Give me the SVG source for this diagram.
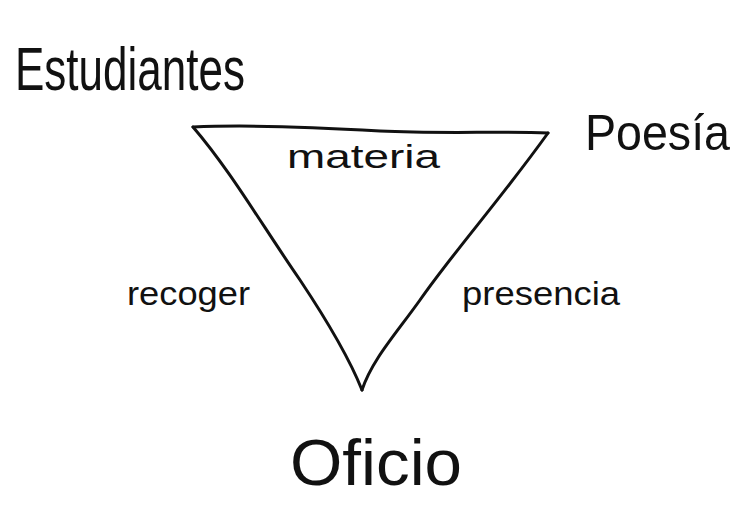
<svg xmlns="http://www.w3.org/2000/svg" width="752" height="515" viewBox="0 0 752 515">
<style>
.edge{fill:none;stroke:#111;stroke-width:3;stroke-linecap:round;stroke-linejoin:round}
.big{font-family:"Liberation Sans","DejaVu Sans",sans-serif;fill:#111}
.small{font-family:"Liberation Sans","DejaVu Sans",sans-serif;fill:#111;font-size:34px}
</style>
<rect width="752" height="515" fill="#fff"/>
<g id="connectors">
<path class="edge" d="M193,127 C260,124 330,128 380,131 C440,134 500,131 548,133"/>
<path class="edge" d="M193,127 C230,170 262,225 300,280 C330,325 350,360 362,390"/>
<path class="edge" d="M548,133 C500,200 455,250 420,300 C395,335 372,360 362,390"/>
<text class="small" x="287" y="168" textLength="153" lengthAdjust="spacingAndGlyphs">materia</text>
<text class="small" x="127" y="305" textLength="123" lengthAdjust="spacingAndGlyphs">recoger</text>
<text class="small" x="462" y="305" textLength="158" lengthAdjust="spacingAndGlyphs">presencia</text>
</g>
<g id="estudiantes"><text class="big" x="15" y="90" style="font-size:62px" textLength="230" lengthAdjust="spacingAndGlyphs">Estudiantes</text></g>
<g id="poesia"><text class="big" x="585" y="150" style="font-size:50px" textLength="145" lengthAdjust="spacingAndGlyphs">Poesía</text></g>
<g id="oficio"><text class="big" x="290" y="485" style="font-size:64px" textLength="172" lengthAdjust="spacingAndGlyphs">Oficio</text></g>
</svg>
